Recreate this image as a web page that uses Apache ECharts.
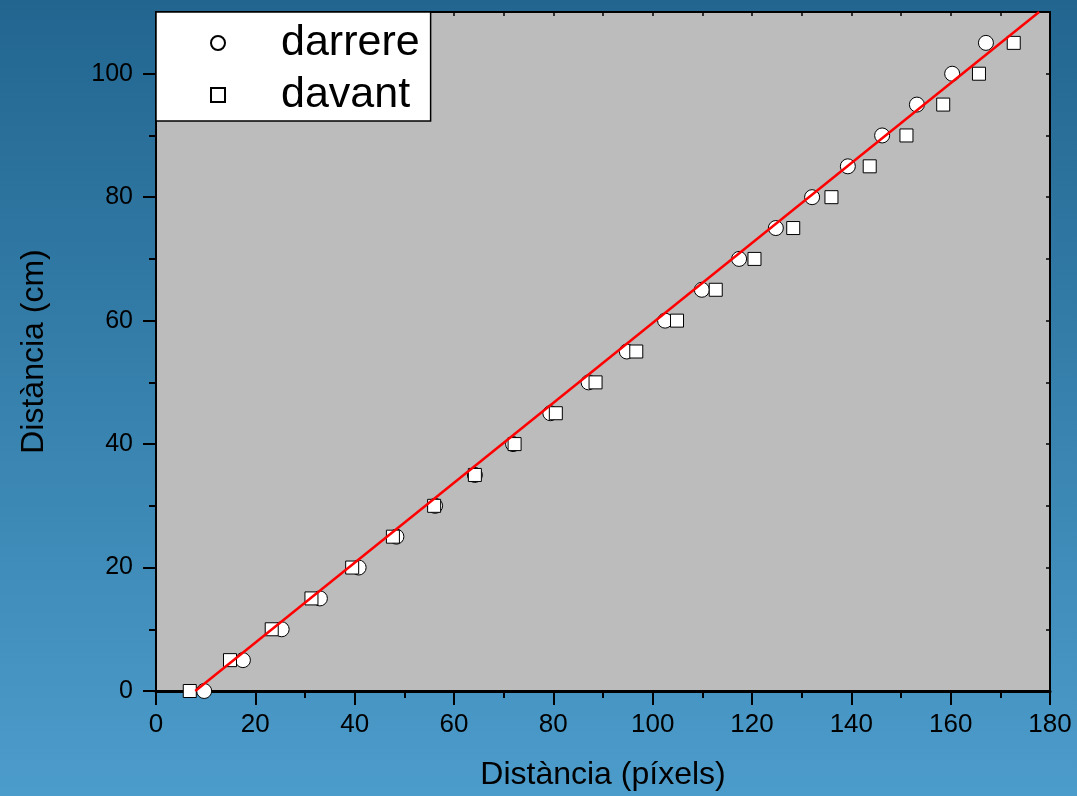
<!DOCTYPE html>
<html>
<head>
<meta charset="utf-8">
<script src="https://cdn.jsdelivr.net/npm/echarts@6/dist/echarts.min.js"></script>
<style>
  html, body { margin: 0; padding: 0; }
  #chart { width: 1077px; height: 796px; }
</style>
</head>
<body>
<div id="chart"></div>
<script>
// distance in cm (same for both series)
var distCm = [0, 5, 10, 15, 20, 25, 30, 35, 40, 45, 50, 55, 60, 65, 70, 75, 80, 85, 90, 95, 100, 105];
// pixel distance
var darrereX = [9.7, 17.5, 25.3, 33.0, 40.8, 48.4, 56.2, 64.2, 71.9, 79.4, 87.1, 94.8, 102.5, 109.9, 117.4, 124.8, 132.1, 139.3, 146.2, 153.2, 160.3, 167.1];
var davantX = [6.8, 14.9, 23.3, 31.3, 39.5, 47.7, 56.0, 64.2, 72.2, 80.5, 88.5, 96.7, 104.9, 112.7, 120.5, 128.3, 136.0, 143.7, 151.1, 158.5, 165.7, 172.7];
// fitted line end points
var fitX = [7.9, 177.8];
var fitY = [0, 110];
// tick values on the y axis
var yMajor = [0, 20, 40, 60, 80, 100];
var yMinor = [10, 30, 50, 70, 90];
var yAll = [0, 10, 20, 30, 40, 50, 60, 70, 80, 90, 100, 110];

function pairs(xs, ys) {
  return xs.map(function (x, i) { return [x, ys[i]]; });
}

var myChart = echarts.init(document.getElementById('chart'));

var option = {
  backgroundColor: {
    type: 'linear', x: 0, y: 0, x2: 0, y2: 1,
    colorStops: [
      { offset: 0, color: '#226690' },
      { offset: 1, color: '#4c9ccb' }
    ]
  },
  animation: false,
  grid: {
    left: 156, right: 27, top: 12, bottom: 102,
    show: true, backgroundColor: '#bcbcbc', borderWidth: 0
  },
  legend: {
    left: 156, top: 12,
    orient: 'vertical',
    backgroundColor: '#ffffff',
    borderColor: '#000000',
    borderWidth: 1.5,
    padding: [9, 11, 4, 54],
    itemWidth: 14,
    itemHeight: 14,
    itemGap: 8,
    formatter: function (name) { return '{g|}' + name; },
    textStyle: {
      fontFamily: 'Liberation Sans', fontSize: 43, color: '#000', lineHeight: 44,
      rich: { g: { width: 51 } }
    },
    data: [
      { name: 'darrere', icon: 'circle' },
      { name: 'davant', icon: 'rect' }
    ]
  },
  xAxis: [{
    type: 'value', min: 0, max: 180, interval: 20,
    position: 'bottom',
    name: 'Distància (píxels)', nameLocation: 'middle', nameGap: 68,
    nameTextStyle: { fontFamily: 'Liberation Sans', fontSize: 32, color: '#000' },
    axisLine: { show: true, onZero: false, lineStyle: { color: '#000', width: 3 } },
    axisTick: { show: true, inside: false, length: 14, lineStyle: { color: '#000', width: 2 } },
    minorTick: { show: true, splitNumber: 2, length: 7, lineStyle: { color: '#000', width: 2 } },
    axisLabel: { margin: 21, fontFamily: 'Liberation Sans', fontSize: 26, color: '#000' },
    splitLine: { show: false }
  }, {
    type: 'value', min: 0, max: 180, interval: 10,
    position: 'top',
    axisLine: { show: true, onZero: false, lineStyle: { color: '#000', width: 2 } },
    axisTick: { show: true, inside: true, length: 4, lineStyle: { color: '#000', width: 1.5 } },
    axisLabel: { show: false },
    splitLine: { show: false }
  }],
  yAxis: [{
    type: 'value', min: 0, max: 110, interval: 10,
    position: 'left',
    name: 'Distància (cm)', nameLocation: 'middle', nameGap: 106,
    nameTextStyle: { fontFamily: 'Liberation Sans', fontSize: 32, color: '#000' },
    axisLine: { show: true, onZero: false, lineStyle: { color: '#000', width: 2 } },
    axisTick: { show: true, inside: false, length: 13, customValues: yMajor, lineStyle: { color: '#000', width: 2 } },
    axisLabel: { margin: 23, customValues: yMajor, fontFamily: 'Liberation Sans', fontSize: 25, color: '#000' },
    splitLine: { show: false }
  }, {
    type: 'value', min: 0, max: 110, interval: 10,
    position: 'left',
    axisLine: { show: false },
    axisTick: { show: true, inside: false, length: 7, customValues: yMinor, lineStyle: { color: '#000', width: 2 } },
    axisLabel: { show: false },
    splitLine: { show: false }
  }, {
    type: 'value', min: 0, max: 110, interval: 10,
    position: 'right',
    axisLine: { show: true, onZero: false, lineStyle: { color: '#000', width: 2 } },
    axisTick: { show: true, inside: true, length: 4, customValues: yAll, lineStyle: { color: '#000', width: 1.5 } },
    axisLabel: { show: false },
    splitLine: { show: false }
  }],
  series: [{
    name: 'fit',
    type: 'line',
    data: pairs(fitX, fitY),
    showSymbol: false,
    lineStyle: { color: '#ff0000', width: 2.5 },
    z: 3
  }, {
    name: 'darrere',
    type: 'scatter',
    data: pairs(darrereX, distCm),
    symbol: 'circle',
    symbolSize: 15,
    itemStyle: { color: '#ffffff', borderColor: '#000', borderWidth: 1, opacity: 1 },
    z: 2
  }, {
    name: 'davant',
    type: 'scatter',
    data: pairs(davantX, distCm),
    symbol: 'rect',
    symbolSize: 13,
    itemStyle: { color: '#ffffff', borderColor: '#000', borderWidth: 1, opacity: 1 },
    z: 2
  }]
};

myChart.setOption(option);
</script>
</body>
</html>
